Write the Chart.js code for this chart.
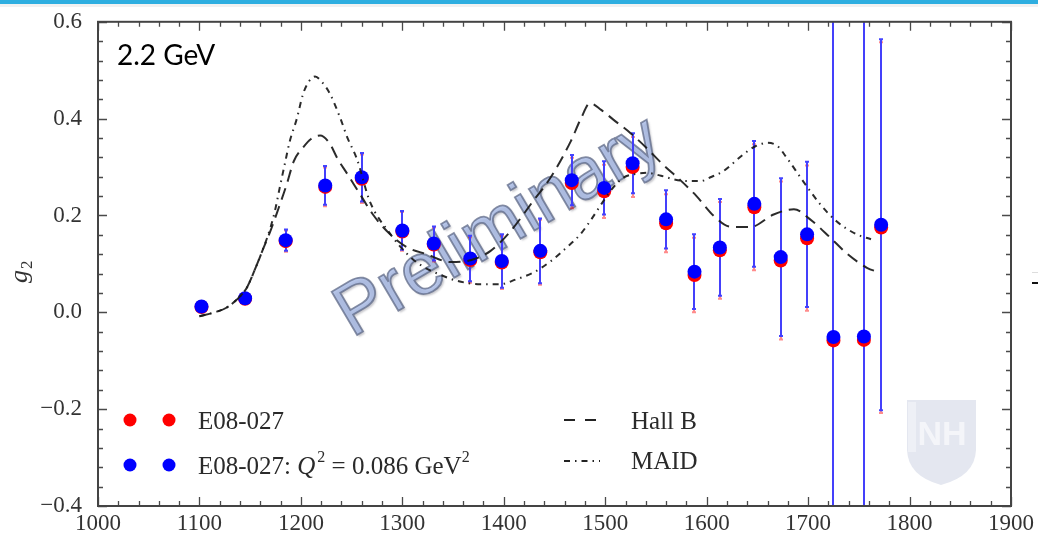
<!DOCTYPE html>
<html>
<head>
<meta charset="utf-8">
<script src="https://cdn.jsdelivr.net/npm/chart.js@4.4.0/dist/chart.umd.min.js"></script>
<style>
html, body { margin: 0; padding: 0; background: #fff; }
#wrap { position: relative; width: 1038px; height: 536px; }
</style>
</head>
<body>
<div id="wrap"><canvas id="g2Chart" width="1038" height="536"></canvas></div>
<script>
// E08-027 g2 data, W in MeV
const wValues = [1102, 1145, 1185, 1224, 1260, 1300, 1331, 1367, 1398, 1436, 1467,
                 1499, 1527, 1560, 1588, 1613, 1647, 1673, 1699, 1725, 1755, 1772];
const g2Raw = [0.011, 0.028, 0.147, 0.259, 0.276, 0.167, 0.140, 0.108, 0.103, 0.124, 0.267,
               0.250, 0.300, 0.184, 0.077, 0.128, 0.217, 0.107, 0.153, -0.058, -0.057, 0.175];
const g2Q2 = [0.012, 0.029, 0.149, 0.262, 0.279, 0.169, 0.142, 0.111, 0.106, 0.127, 0.273,
              0.257, 0.308, 0.192, 0.084, 0.134, 0.224, 0.114, 0.161, -0.051, -0.050, 0.181];
const g2Err = [0.004, 0.008, 0.022, 0.040, 0.050, 0.040, 0.035, 0.047, 0.055, 0.067, 0.052,
               0.055, 0.062, 0.060, 0.077, 0.100, 0.130, 0.163, 0.150, 0.750, 0.750, 0.383];

// model curves
const hallBW = [1100, 1115, 1127, 1140, 1147, 1155, 1162, 1170, 1178, 1186, 1193, 1202, 1210, 1219,
                1228, 1236, 1246, 1258, 1271, 1288, 1305, 1324, 1347, 1368, 1387, 1406, 1429, 1446,
                1466, 1476, 1485, 1496, 1508, 1525, 1541, 1557, 1574, 1590, 1607, 1623, 1643, 1666,
                1686, 1702, 1722, 1739, 1758, 1771];
const hallBG2 = [-0.008, 0.0, 0.01, 0.033, 0.052, 0.09, 0.127, 0.168, 0.215, 0.264, 0.312, 0.340, 0.358, 0.365,
                 0.350, 0.318, 0.285, 0.245, 0.202, 0.161, 0.134, 0.120, 0.104, 0.108, 0.127, 0.166, 0.230, 0.278,
                 0.353, 0.400, 0.432, 0.418, 0.398, 0.370, 0.339, 0.305, 0.273, 0.240, 0.199, 0.177, 0.176, 0.202,
                 0.213, 0.192, 0.154, 0.120, 0.092, 0.082];
const maidW = [1100, 1115, 1127, 1140, 1147, 1155, 1162, 1170, 1175, 1179, 1184, 1189, 1196, 1202, 1208,
               1214, 1221, 1229, 1239, 1246, 1255, 1268, 1287, 1305, 1320, 1337, 1354, 1377, 1396, 1412,
               1429, 1446, 1462, 1475, 1485, 1498, 1508, 1518, 1530, 1541, 1555, 1567, 1580, 1594, 1605,
               1616, 1636, 1648, 1660, 1670, 1679, 1695, 1712, 1728, 1748, 1762];
const maidG2 = [-0.008, 0.0, 0.01, 0.033, 0.052, 0.09, 0.127, 0.175, 0.215, 0.256, 0.305, 0.353, 0.400, 0.450, 0.477,
                0.487, 0.475, 0.450, 0.400, 0.360, 0.318, 0.229, 0.165, 0.120, 0.095, 0.078, 0.065, 0.058, 0.058, 0.068,
                0.082, 0.105, 0.134, 0.160, 0.188, 0.229, 0.258, 0.278, 0.286, 0.288, 0.282, 0.275, 0.271, 0.271, 0.280,
                0.291, 0.326, 0.343, 0.350, 0.343, 0.319, 0.271, 0.223, 0.188, 0.161, 0.151];

const xTicks = [1000, 1100, 1200, 1300, 1400, 1500, 1600, 1700, 1800, 1900];
const yTicks = [-0.4, -0.2, 0.0, 0.2, 0.4, 0.6];

const pts = (xs, ys) => xs.map((v, i) => ({ x: v, y: ys[i] }));
const serif = '"Liberation Serif", "DejaVu Serif", serif';
const hallBDash = [12, 7];
const maidDash = [6, 5, 1.5, 5];

// light page furniture: top strip, shield mark, stray slide mark
const background = {
  id: 'background',
  beforeDraw(chart) {
    const ctx = chart.ctx;
    ctx.save();
    ctx.fillStyle = '#fff';
    ctx.fillRect(0, 0, chart.width, chart.height);
    ctx.fillStyle = '#f1f1f1';
    ctx.fillRect(0, 4, chart.width, 3);
    ctx.fillStyle = '#2eaee0';
    ctx.fillRect(0, 0, chart.width, 4);

    // shield
    ctx.fillStyle = '#e4e7f0';
    ctx.beginPath();
    ctx.moveTo(907, 400);
    ctx.lineTo(976, 400);
    ctx.lineTo(976, 450);
    ctx.quadraticCurveTo(975, 476, 941, 485);
    ctx.quadraticCurveTo(908, 476, 907, 450);
    ctx.closePath();
    ctx.fill();
    ctx.fillStyle = '#eef0f6';
    ctx.fillRect(908, 402, 8, 50);
    ctx.font = 'bold 34px "Liberation Sans Narrow", "Liberation Sans", sans-serif';
    ctx.textAlign = 'center';
    ctx.textBaseline = 'middle';
    ctx.fillStyle = '#f4f5f9';
    ctx.fillText('NH', 942, 436);

    ctx.fillStyle = '#111';
    ctx.fillRect(1032, 282, 6, 2);
    ctx.fillStyle = '#ddd';
    ctx.fillRect(1032, 272, 6, 1);
    ctx.restore();
  }
};

// error bars and the watermark under the markers
const errorBars = {
  id: 'errorBars',
  beforeDatasetsDraw(chart) {
    const { ctx, chartArea: a, scales: { x, y } } = chart;
    ctx.save();
    ctx.beginPath();
    ctx.rect(a.left, a.top, a.right - a.left, a.bottom - a.top);
    ctx.clip();

    // watermark
    ctx.save();
    ctx.translate(352, 338);
    ctx.rotate(-30.5 * Math.PI / 180);
    ctx.font = '73px "Liberation Sans", Arial, sans-serif';
    ctx.textBaseline = 'alphabetic';
    ctx.shadowColor = 'rgba(60,60,80,0.35)';
    ctx.shadowOffsetX = 2;
    ctx.shadowOffsetY = 2;
    ctx.shadowBlur = 2;
    ctx.fillStyle = 'rgba(165,184,228,0.8)';
    ctx.fillText('Preliminary', 0, 0);
    ctx.shadowColor = 'transparent';
    ctx.lineWidth = 1.8;
    ctx.strokeStyle = 'rgba(95,105,135,0.75)';
    ctx.strokeText('Preliminary', 0, 0);
    ctx.restore();

    const drawSet = (vals, color) => {
      ctx.strokeStyle = color;
      ctx.lineWidth = 2;
      ctx.beginPath();
      wValues.forEach((w, i) => {
        const px = Math.round(x.getPixelForValue(w));
        const top = y.getPixelForValue(vals[i] + g2Err[i]);
        const bot = y.getPixelForValue(vals[i] - g2Err[i]);
        ctx.moveTo(px, top); ctx.lineTo(px, bot);
        ctx.moveTo(px - 2, top); ctx.lineTo(px + 2, top);
        ctx.moveTo(px - 2, bot); ctx.lineTo(px + 2, bot);
      });
      ctx.stroke();
    };
    drawSet(g2Raw, 'rgba(255,0,0,0.45)');
    drawSet(g2Q2, 'rgba(60,60,255,0.96)');
    ctx.restore();
  }
};

// box frame with inward major/minor ticks, axis title, legend, energy label
const frame = {
  id: 'frame',
  afterDraw(chart) {
    const { ctx, chartArea: a, scales: { x, y } } = chart;
    ctx.save();
    ctx.strokeStyle = '#4a4a4a';
    ctx.lineWidth = 1.3;
    ctx.beginPath();
    for (let k = 0; k <= 45; k++) {
      const px = Math.round(x.getPixelForValue(1000 + k * 20)) + 0.5;
      const len = k % 5 === 0 ? 9 : 5;
      ctx.moveTo(px, a.bottom); ctx.lineTo(px, a.bottom - len);
      ctx.moveTo(px, a.top); ctx.lineTo(px, a.top + len);
    }
    for (let k = 0; k <= 25; k++) {
      const py = Math.round(y.getPixelForValue(-0.4 + k * 0.04)) + 0.5;
      const len = k % 5 === 0 ? 9 : 5;
      ctx.moveTo(a.left, py); ctx.lineTo(a.left + len, py);
      ctx.moveTo(a.right, py); ctx.lineTo(a.right - len, py);
    }
    ctx.stroke();
    ctx.lineWidth = 2;
    ctx.strokeStyle = '#444';
    ctx.strokeRect(a.left, a.top, a.right - a.left, a.bottom - a.top);

    // y axis title g2
    ctx.save();
    ctx.translate(27, 283);
    ctx.rotate(-Math.PI / 2);
    ctx.fillStyle = '#333';
    ctx.textBaseline = 'alphabetic';
    ctx.font = 'italic 26px ' + serif;
    ctx.fillText('g', 0, 0);
    const gw = ctx.measureText('g').width;
    ctx.font = '17px ' + serif;
    ctx.fillText('2', gw + 1, 5);
    ctx.restore();

    // energy label
    ctx.fillStyle = '#000';
    ctx.font = '28px Lato, "Open Sans", sans-serif';
    ctx.textBaseline = 'alphabetic';
    ctx.fillText('2.2 GeV', 117, 65);

    // legend
    const dot = (cx, cy, c) => {
      ctx.fillStyle = c;
      ctx.beginPath();
      ctx.arc(cx, cy, 6.5, 0, Math.PI * 2);
      ctx.fill();
    };
    dot(130, 420, '#ff0000'); dot(169, 420, '#ff0000');
    dot(130, 465, '#0000ff'); dot(169, 465, '#0000ff');

    ctx.fillStyle = '#2a2a2a';
    ctx.textBaseline = 'middle';
    ctx.font = '25px ' + serif;
    ctx.fillText('E08-027', 198, 422);

    let tx = 198;
    const put = (t, font, dy) => {
      ctx.font = font;
      ctx.fillText(t, tx, 467 + dy);
      tx += ctx.measureText(t).width;
    };
    put('E08-027: ', '25px ' + serif, 0);
    put('Q', 'italic 25px ' + serif, 0);
    tx += 2;
    put('2', '16px ' + serif, -9);
    put(' = 0.086 GeV', '25px ' + serif, 0);
    put('2', '16px ' + serif, -9);

    ctx.strokeStyle = '#222';
    ctx.lineWidth = 2;
    ctx.setLineDash([11, 10]);
    ctx.beginPath(); ctx.moveTo(564, 420); ctx.lineTo(597, 420); ctx.stroke();
    ctx.setLineDash(maidDash);
    ctx.beginPath(); ctx.moveTo(564, 461); ctx.lineTo(600, 461); ctx.stroke();
    ctx.setLineDash([]);
    ctx.font = '25px ' + serif;
    ctx.fillText('Hall B', 631, 422);
    ctx.fillText('MAID', 631, 462);
    ctx.restore();
  }
};

const curveStyle = {
  showLine: true,
  pointRadius: 0,
  borderColor: 'rgba(25,25,25,0.92)',
  borderWidth: 2,
  cubicInterpolationMode: 'monotone',
  fill: false
};

new Chart(document.getElementById('g2Chart'), {
  type: 'scatter',
  data: {
    datasets: [
      Object.assign({ label: 'Hall B', data: pts(hallBW, hallBG2), borderDash: hallBDash, order: 0 }, curveStyle),
      Object.assign({ label: 'MAID', data: pts(maidW, maidG2), borderDash: maidDash, order: 1 }, curveStyle),
      {
        label: 'E08-027: Q2 = 0.086 GeV2',
        data: pts(wValues, g2Q2),
        pointRadius: 7,
        pointBackgroundColor: '#0000ff',
        pointBorderWidth: 0,
        order: 2
      },
      {
        label: 'E08-027',
        data: pts(wValues, g2Raw),
        pointRadius: 7,
        pointBackgroundColor: '#ff0000',
        pointBorderWidth: 0,
        order: 3
      }
    ]
  },
  options: {
    responsive: false,
    animation: false,
    devicePixelRatio: 1,
    layout: { padding: { top: 20, right: 27, left: 0, bottom: 0 } },
    plugins: { legend: { display: false }, tooltip: { enabled: false } },
    scales: {
      x: {
        type: 'linear',
        min: 1000,
        max: 1900,
        afterBuildTicks: s => { s.ticks = xTicks.map(v => ({ value: v })); },
        afterFit: s => { s.height = 30; },
        grid: { display: false },
        border: { display: false },
        ticks: {
          autoSkip: false,
          maxRotation: 0,
          padding: -2,
          color: '#333',
          font: { family: serif, size: 23, lineHeight: 1 },
          callback: v => String(v)
        }
      },
      y: {
        min: -0.4,
        max: 0.6,
        afterBuildTicks: s => { s.ticks = yTicks.map(v => ({ value: v })); },
        afterFit: s => { s.width = 98; },
        grid: { display: false },
        border: { display: false },
        ticks: {
          padding: 8,
          color: '#333',
          font: { family: serif, size: 23 },
          callback: v => (v < -1e-9 ? '\u2212' : '') + Math.abs(v).toFixed(1)
        }
      }
    }
  },
  plugins: [background, errorBars, frame]
});
</script>
</body>
</html>
